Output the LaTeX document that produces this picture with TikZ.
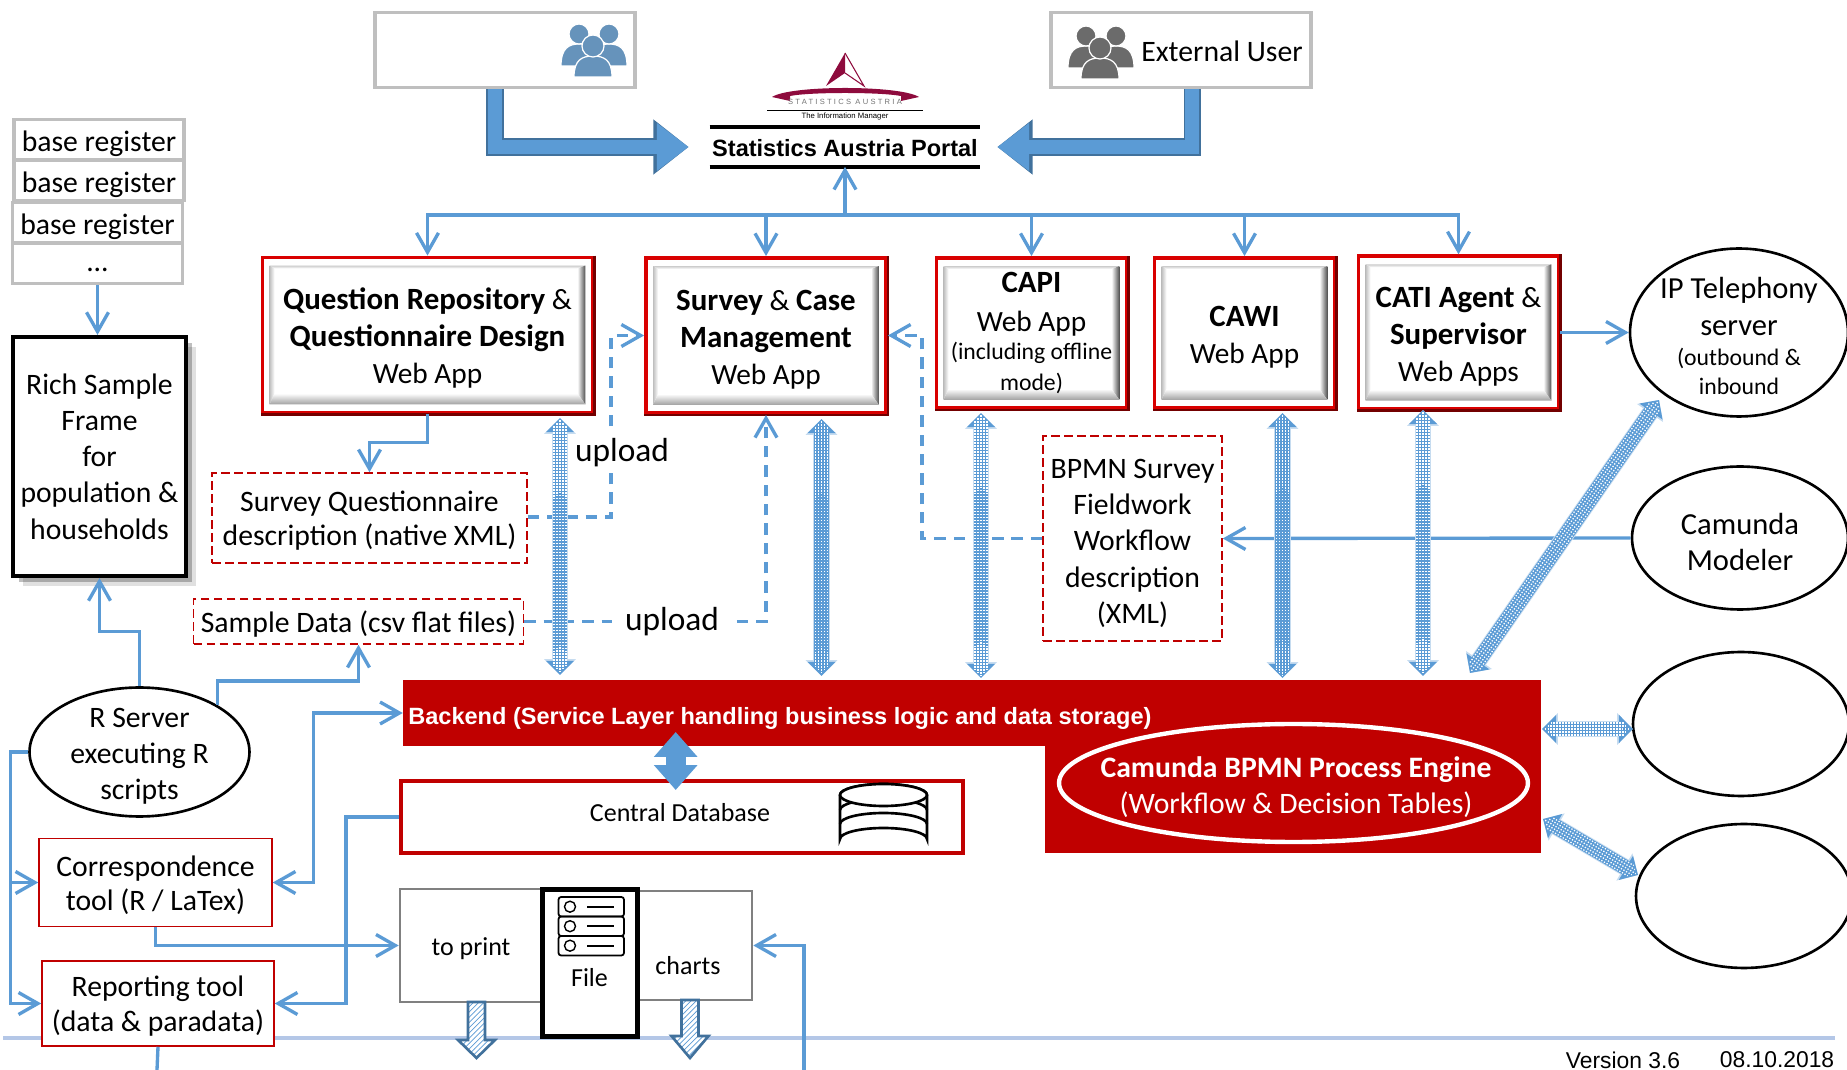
\documentclass[tikz,border=0pt]{standalone}
\usepackage{fontspec}
\setmainfont{Carlito}
\newfontfamily\arialf{Liberation Sans}
\newfontfamily\logof[LetterSpace=30]{Liberation Sans}
\usetikzlibrary{arrows.meta,calc,patterns,shadows,shapes.geometric}

\definecolor{skyb}{HTML}{5B9BD5}
\definecolor{edgeb}{HTML}{41719C}
\definecolor{ruleb}{HTML}{B4C7E7}
\definecolor{redb}{HTML}{C00000}
\definecolor{greyb}{HTML}{BFBFBF}
\definecolor{logor}{HTML}{8E0B3D}

\newcommand{\txt}{\fontsize{16.9}{20.6}\selectfont}
\newcommand{\smalltxt}{\fontsize{13.5}{16.5}\selectfont}
\newcommand{\midtxt}{\fontsize{14.8}{17}\selectfont}
\newcommand{\bigtxt}{\fontsize{17.4}{20.6}\selectfont}
\newcommand{\hd}[1]{{\fontsize{17.6}{21}\selectfont\bfseries #1}}
\newcommand{\lf}{\rule{0pt}{.97em}}
\newcommand{\lfs}{\rule{0pt}{.87em}}

\tikzstyle{link}=[->,line width=1.9pt,color=skyb]
\tikzstyle{linkdash}=[link,dash pattern=on 6.5pt off 4.5pt]
\tikzstyle{bigb}=[line width=8pt,color=skyb,-{Triangle[length=18pt,width=26pt]},
  preaction={draw=edgeb,line width=10pt,-{Triangle[length=20pt,width=30pt]}}]
\tikzstyle{dotb}=[line width=8.5pt,color=skyb,{Triangle[length=8pt,width=15.5pt]}-{Triangle[length=8pt,width=15.5pt]},
  preaction={draw=skyb!35,line width=9.6pt,{Triangle[length=9pt,width=17.5pt]}-{Triangle[length=9pt,width=17.5pt]}}]
\tikzstyle{dotrow}=[line width=.75pt,color=white,dash pattern=on .75pt off .95pt]
\tikzstyle{hatchb}=[draw=edgeb,line width=1.5pt,pattern=north east lines,pattern color=skyb,preaction={fill=white}]
\tikzstyle{greybox}=[draw=greyb,line width=1.8pt,fill=white,inner sep=0pt]
\tikzstyle{redsolid}=[draw=redb,line width=.9pt,fill=white,inner sep=0pt,align=center]
\tikzstyle{reddash}=[draw=red!75!black,line width=.9pt,dash pattern=on 5pt off 2.4pt,fill=white,inner sep=0pt,align=center]
\tikzstyle{oval}=[ellipse,draw=black,line width=1.5pt,fill=white,inner sep=0pt,align=center]
\tikzstyle{webbox}=[draw=red!85!black,line width=2.2pt,fill=white,inner sep=0pt,align=center,
  font=\fontsize{16.7}{21}\selectfont,path picture={\bevel}]

\newcommand{\bevel}{%
  \coordinate (bNW) at ($(path picture bounding box.north west)+(7,8)$);
  \coordinate (bNE) at ($(path picture bounding box.north east)+(-7,8)$);
  \coordinate (bSE) at ($(path picture bounding box.south east)+(-7,-8)$);
  \coordinate (bSW) at ($(path picture bounding box.south west)+(7,-8)$);
  \coordinate (iNW) at ($(bNW)+(5,3)$);
  \coordinate (iNE) at ($(bNE)+(-8,3)$);
  \coordinate (iSE) at ($(bSE)+(-8,-11)$);
  \coordinate (iSW) at ($(bSW)+(5,-11)$);
  \shade[top color=gray!40,bottom color=white] (bNW)--(bNE)--(iNE)--(iNW)--cycle;
  \shade[left color=gray!50,right color=white] (bNW)--(iNW)--(iSW)--(bSW)--cycle;
  \shade[left color=white,right color=black!70] (iNE)--(bNE)--(bSE)--(iSE)--cycle;
  \shade[top color=white,bottom color=gray!75] (iSW)--(iSE)--(bSE)--(bSW)--cycle;
}

\newcommand{\people}[3]{%
  \begin{scope}[shift={(#1,#2)},draw=white,line width=.7pt,fill=#3]
    \filldraw (-33,15) .. controls (-33,-3) and (-25,-7) .. (-15,-7) .. controls (-5,-7) and (3,-3) .. (3,15) -- cycle;
    \filldraw (33,15) .. controls (33,-3) and (25,-7) .. (15,-7) .. controls (5,-7) and (-3,-3) .. (-3,15) -- cycle;
    \filldraw (-15,-17) ellipse (10 and 10);
    \filldraw (15,-17) ellipse (10 and 10);
    \filldraw (-20,26) .. controls (-20,9) and (-12,5) .. (-1,5) .. controls (10,5) and (18,9) .. (18,26) -- cycle;
    \filldraw (-1,-5) ellipse (11 and 11);
  \end{scope}}

\begin{document}
\begin{tikzpicture}[x=0.02cm,y=-0.02cm,>={Straight Barb[length=11pt,width=12.5pt]},
  every node/.style={font=\txt}]
\useasboundingbox (0,0) rectangle (1847,1070);

% rule at the foot
\coordinate (ruleL) at (3,1038);
\coordinate (ruleR) at (1835,1038);
\draw [ruleb,line width=2.4pt] (ruleL) -- (ruleR);

% users and portal
\node [greybox,minimum width=5.2cm,minimum height=1.5cm] (inuser) at (505,50) {};
\node [greybox,minimum width=5.2cm,minimum height=1.5cm] (exuser) at (1181,50) {};
\people{594}{51}{skyb!70!gray}
\people{1101}{53}{black!58}
\node (exlabel) at (1222,51) {External User};
\node [minimum width=5.4cm,minimum height=.78cm,inner sep=0pt,font=\arialf\bfseries\fontsize{13.4}{15}\selectfont] (portal) at (845,147) {\rule{0pt}{.8em}Statistics Austria Portal};
\draw [line width=2pt] (portal.north west) -- (portal.north east);
\draw [line width=2.6pt] (portal.south west) -- (portal.south east);

% logo
\fill [logor] (845,53) -- (826,86) -- (845,73) -- cycle;
\draw [logor,line width=.6pt] (845,53) -- (864,86) -- (845,73);
\fill [logor] (772,97) .. controls (790,85) and (900,85) .. (919,97) -- (901,101) -- (901,96) .. controls (880,92) and (810,92) .. (790,96) -- (790,101) -- cycle;
\node [inner sep=0pt,text=black!55,font=\logof\fontsize{4.3}{5}\selectfont] (logoname) at (845,102) {STATISTICS AUSTRIA};
\draw [line width=.5pt] (767,110) -- (923,110);
\node [inner sep=0pt,font=\arialf\fontsize{4.4}{5}\selectfont] (logotag) at (845,117) {The Information Manager};

% web apps
\node [webbox,minimum width=6.6cm,minimum height=3.1cm] (qrd) at (427.5,335) {\lf\hd{Question Repository} \&\\\hd{Questionnaire Design}\\Web App};
\node [webbox,minimum width=4.8cm,minimum height=3.1cm] (scm) at (766,335.5) {\lf\hd{Survey} \& \hd{Case}\\\hd{Management}\\Web App};
\node [webbox,minimum width=3.8cm,minimum height=3cm] (capi) at (1031.5,333) {\hd{CAPI}\\[1pt]Web App\\[-5pt]{\smalltxt (including offline}\\[-3.5pt]{\smalltxt mode)}};
\node [webbox,minimum width=3.6cm,minimum height=3cm] (cawi) at (1244.5,333) {\lf\hd{CAWI}\\Web App};
\node [webbox,minimum width=4cm,minimum height=3.05cm] (cati) at (1458.5,332.5) {\lf\hd{CATI Agent} \&\\\hd{Supervisor}\\Web Apps};
\foreach \t in {qrd,scm,capi,cawi,cati}
\draw [red!45!black,line width=1.4pt] (\t.north east) -- (\t.south east) -- (\t.south west);

% base registers
\foreach \n/\x/\y in {reg1/99/139.5,reg2/99/180.5,reg3/97.5/222.5}
\node [greybox,minimum width=3.4cm,minimum height=.8cm] (\n) at (\x,\y) {\lf base register};
\node [greybox,minimum width=3.4cm,minimum height=.8cm] (reg4) at (97.5,263.5) {\rule{0pt}{9.5pt}...};
\node [draw=black,line width=2.3pt,fill=white,align=center,inner sep=0pt,minimum width=3.46cm,minimum height=4.78cm,
  drop shadow={shadow xshift=5.5pt,shadow yshift=-5.5pt,fill=black,opacity=.12},
  drop shadow={shadow xshift=3.5pt,shadow yshift=-3.5pt,fill=black,opacity=.25}] (rich) at (99.5,456.5) {Rich Sample\\Frame\\for\\population \&\\households};

% descriptions
\node [reddash,minimum width=6.3cm,minimum height=1.8cm] (sqd) at (369.5,518) {\lfs Survey Questionnaire\\[-1.2pt]description (native XML)};
\node [reddash,minimum width=6.6cm,minimum height=.9cm] (sample) at (358.5,621.5) {\rule{0pt}{.9em}Sample Data (csv flat files)};
\node [reddash,minimum width=3.58cm,minimum height=4.1cm] (bpmn) at (1132.5,538.5) {\lf BPMN Survey\\Fieldwork\\Workflow\\description\\(XML)};

% ovals
\node [oval,minimum width=4.36cm,minimum height=3.36cm] (ipt) at (1739,332.5) {};
\node [inner sep=0pt,align=center,font=\bigtxt] (iplabel) at (1739,336) {IP Telephony\\server\\[-3pt]{\smalltxt (outbound \&}\\[-4.5pt]{\smalltxt inbound}};
\node [oval,minimum width=4.32cm,minimum height=2.86cm,font=\bigtxt] (mod) at (1740,538) {\lf Camunda\\Modeler};
\node [oval,minimum width=4.32cm,minimum height=2.88cm] (ext1) at (1741,724) {};
\node [oval,minimum width=4.32cm,minimum height=2.88cm] (ext2) at (1744,896) {};

% backend
\node [fill=redb,minimum width=22.76cm,minimum height=1.32cm,inner sep=0pt] (backend) at (972,713) {};
\node [fill=redb,minimum width=9.92cm,minimum height=2.14cm,inner sep=0pt] (engblock) at (1293,799.5) {};
\node [anchor=west,inner sep=0pt,text=white,font=\arialf\bfseries\fontsize{13.4}{15}\selectfont] (backtxt) at (408,718) {Backend (Service Layer handling business logic and data storage)};
\node [ellipse,draw=white,line width=2.5pt,inner sep=0pt,minimum width=9.38cm,minimum height=2.36cm] (engine) at (1293.5,783) {};
\node [text=white,align=center,inner sep=0pt] (enginetxt) at (1296,787.5) {\textbf{Camunda BPMN Process Engine}\\(Workflow \& Decision Tables)};

% central database
\node [draw=redb,line width=2.3pt,fill=white,inner sep=0pt,minimum width=11.24cm,minimum height=1.44cm] (cdb) at (682,817) {};
\node [inner sep=0pt,font=\midtxt] (cdblabel) at (680,813) {Central Database};
\begin{scope}[line width=1.5pt]
\draw [fill=white] (840,795) -- (840,839) arc (180:360:43.5 and 11) -- (927,795);
\draw (840,795) arc (180:360:43.5 and 11);
\draw (840,810) arc (180:360:43.5 and 11);
\draw (840,824) arc (180:360:43.5 and 11);
\draw [fill=white] (883.5,795) ellipse (43.5 and 11);
\end{scope}

% tools
\node [oval,minimum width=4.4cm,minimum height=2.58cm] (rsrv) at (139.5,752) {};
\node [align=center,inner sep=0pt] (rlabel) at (139.5,756.5) {R Server\\executing R\\scripts};
\node [redsolid,minimum width=4.66cm,minimum height=1.76cm] (corr) at (155.5,882.5) {\lfs Correspondence\\[-1.2pt]tool (R / LaTex)};
\node [redsolid,minimum width=4.64cm,minimum height=1.7cm] (rep) at (158,1003.5) {\lfs Reporting tool\\[-1.2pt](data \& paradata)};

% output
\node [greybox,draw=gray,line width=1.5pt,minimum width=2.84cm,minimum height=2.26cm,font=\midtxt] (toprint) at (471,945.5) {\rule{0pt}{.91em}to print};
\node [greybox,draw=gray,line width=1.5pt,minimum width=2.32cm,minimum height=2.18cm] (charts) at (694,945.5) {};
\node [font=\midtxt,inner sep=0pt] (chartlabel) at (688,966) {charts};
\node [draw=black,line width=2.4pt,fill=white,minimum width=1.9cm,minimum height=2.94cm,inner sep=0pt] (file) at (590,963) {};
\node [font=\midtxt,inner sep=0pt] (filelabel) at (589.5,978) {File};
\foreach \y in {897,916.5,936}{
\draw [line width=1pt,rounded corners=1.5pt] (558.5,\y) rectangle (624,\y+19.5);
\draw [line width=.8pt] (570,\y+9.7) circle (5.5 and 5.5);
\draw [line width=1pt] (587,\y+9.7) -- (614,\y+9.7);
}

% thin connectors
\coordinate (bus) at (845,215);
\draw [link] (bus) -- (portal.south);
\foreach \t in {qrd,scm,capi,cawi,cati}
\draw [link] (bus) -| (\t.north);
\draw [link] (reg4.south) -- (reg4.south |- rich.north);
\draw [link] (qrd.south) -- ++(0,28) -| (sqd.north);
\draw [link] (cati.east) -- (ipt.west);
\draw [link] (mod.west) -- (bpmn.east);
\draw [link] (rsrv.north) -- ++(0,-55) -| (rich.south);
\draw [link] (rsrv.31) -- ++(0,-24) -| (sample.south);
\draw [link] (rsrv.west) -- ++(-18,0) |- (corr.west);
\draw [link] (rsrv.west) -- ++(-18,0) |- (rep.west);
\draw [link,<->] (backend.west) -- ++(-89,0) |- (corr.east);
\draw [link] (cdb.west) -- ++(-53,0) |- (rep.east);
\draw [link] (corr.south) |- (toprint.west);
\coordinate (chartin) at (804,1070);
\draw [link] (chartin) |- (charts.east);
\coordinate (repout) at (157,1070);
\draw [link,-] (rep.south) -- (repout);

% dashed uploads
\draw [linkdash] (sqd.east |- 0,517) -- (611,517) |- (scm.west);
\draw [linkdash] (sample.east) -| (scm.south);
\draw [linkdash] (bpmn.west) -- (922,538.5) |- (scm.east);
\node [fill=white,inner sep=0pt,font=\fontsize{19}{21}\selectfont] (up1) at (622,448.5) {\lf upload};
\node [fill=white,inner sep=0pt,minimum width=2.42cm,minimum height=.7cm,font=\fontsize{19}{21}\selectfont] (up2) at (672,617) {\lf upload};

% thick arrows
\draw [bigb,shorten >=12pt] ([xshift=-5.7pt]inuser.south) |- (portal.west);
\draw [bigb,shorten >=9.7pt] ([xshift=6.5pt]exuser.south) |- (portal.east);
\coordinate (dbtop) at (675.7,732);
\coordinate (dbbot) at (675.7,790);
\draw [color=skyb,line width=11.4pt,{Triangle[length=14.2pt,width=24pt]}-{Triangle[length=14.2pt,width=24pt]}] (dbtop) -- (dbbot);

% dotted double arrows
\foreach \a/\x/\y/\b/\u/\v in {q1/560/418/q2/560/675,s1/821.5/419/s2/821.5/676,c1/981/413/c2/981/678,w1/1282.5/413/w2/1282.5/678,t1/1423/410/t2/1423/676,d1/1659/400/d2/1470/673,h1/1542/729/h2/1633/729,e1/1543/819/e2/1638/875}{
\coordinate (\a) at (\x,\y);
\coordinate (\b) at (\u,\v);
}
\foreach \a/\b/\px/\py in {q1/q2/1/0,s1/s2/1/0,c1/c2/1/0,w1/w2/1/0,t1/t2/1/0,d1/d2/.822/.569,h1/h2/0/1,e1/e2/.509/-.862}{
\draw [dotb] (\a) -- (\b);
\foreach \d in {-6,-3,0,3,6}
\draw [dotrow,shorten >={(abs(\d)+2.5)*.569pt},shorten <={(abs(\d)+2.5)*.569pt}] ([shift={(\d*\px,\d*\py)}]\a) -- ([shift={(\d*\px,\d*\py)}]\b);
}

% hatched arrows
\foreach \x/\y/\b in {476.5/1002/1040,690/1000/1036}
\draw [hatchb] (\x-8.5,\y) -- (\x+8.5,\y) -- (\x+8.5,\b) -- (\x+18.5,\b) -- (\x,1058) -- (\x-18.5,\b) -- (\x-8.5,\b) -- cycle;

% version
\node [inner sep=0pt,font=\arialf\fontsize{13}{15}\selectfont] (version) at (1623,1060) {Version 3.6};
\node [inner sep=0pt,font=\arialf\fontsize{13}{15}\selectfont] (stamp) at (1777,1060) {08.10.2018};
\end{tikzpicture}
\end{document}
